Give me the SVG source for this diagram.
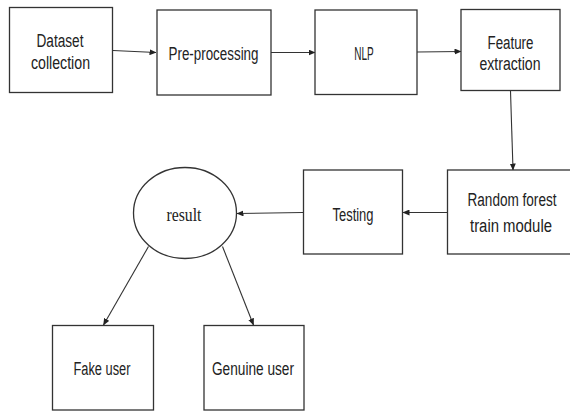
<svg xmlns="http://www.w3.org/2000/svg" width="570" height="411" viewBox="0 0 570 411">
<style>
.box{fill:#fff;stroke:#333;stroke-width:1.3}
.t{font-family:"Liberation Sans Narrow","Liberation Sans",Arial,sans-serif;font-size:18px;fill:#222;text-anchor:middle}
.s{font-family:"Liberation Serif","Times New Roman",serif;font-size:18.5px;fill:#222;text-anchor:middle}
.c{stroke:#333;stroke-width:1.1;fill:none;marker-end:url(#ah)}
</style>
<defs>
<marker id="ah" markerWidth="7" markerHeight="6" refX="6.5" refY="3" orient="auto" markerUnits="userSpaceOnUse">
<path d="M0,0 L7,3 L0,6 Z" fill="#222"/>
</marker>
</defs>
<rect width="570" height="411" fill="#fff"/>
<g id="connectors">
<line class="c" x1="113" y1="50.5" x2="156" y2="52.5"/>
<line class="c" x1="271" y1="52.5" x2="315" y2="52.5"/>
<line class="c" x1="417" y1="52" x2="461" y2="51.5"/>
<line class="c" x1="510.5" y1="91" x2="513" y2="170"/>
<line class="c" x1="447.5" y1="212.5" x2="403" y2="212.5"/>
<line class="c" x1="303" y1="212.5" x2="237" y2="213.5"/>
<line class="c" x1="148.5" y1="246.5" x2="103.5" y2="325"/>
<line class="c" x1="222.5" y1="246.5" x2="253.5" y2="325"/>
</g>
<g id="dataset">
<rect class="box" x="9.5" y="7.5" width="103" height="85"/>
<text class="t" x="60" y="46.5" textLength="47" lengthAdjust="spacingAndGlyphs">Dataset</text>
<text class="t" x="60.5" y="69" textLength="59" lengthAdjust="spacingAndGlyphs">collection</text>
</g>
<g id="preprocessing">
<rect class="box" x="157" y="10" width="114" height="85"/>
<text class="t" x="213.5" y="60" textLength="90" lengthAdjust="spacingAndGlyphs">Pre-processing</text>
</g>
<g id="nlp">
<rect class="box" x="315" y="10" width="102" height="84.5"/>
<text class="t" x="364" y="59.5" textLength="19.5" lengthAdjust="spacingAndGlyphs">NLP</text>
</g>
<g id="feature">
<rect class="box" x="461" y="9.5" width="99" height="81"/>
<text class="t" x="510.5" y="48.5" textLength="46" lengthAdjust="spacingAndGlyphs">Feature</text>
<text class="t" x="510" y="70" textLength="61" lengthAdjust="spacingAndGlyphs">extraction</text>
</g>
<g id="randomforest">
<rect class="box" x="447.5" y="170" width="125" height="84"/>
<text class="t" x="512" y="206" textLength="89" lengthAdjust="spacingAndGlyphs">Random forest</text>
<text class="t" x="511" y="231.5" textLength="82" lengthAdjust="spacingAndGlyphs">train module</text>
</g>
<g id="testing">
<rect class="box" x="303.5" y="170" width="99" height="84"/>
<text class="t" x="353" y="221" textLength="41" lengthAdjust="spacingAndGlyphs">Testing</text>
</g>
<g id="result">
<ellipse class="box" cx="185" cy="213" rx="51.5" ry="45.5"/>
<text class="s" x="184" y="221" textLength="35" lengthAdjust="spacingAndGlyphs">result</text>
</g>
<g id="fakeuser">
<rect class="box" x="52.5" y="325.5" width="101" height="84.5"/>
<text class="t" x="102" y="374.5" textLength="57" lengthAdjust="spacingAndGlyphs">Fake user</text>
</g>
<g id="genuineuser">
<rect class="box" x="204" y="325.5" width="100" height="84.5"/>
<text class="t" x="253" y="375" textLength="82" lengthAdjust="spacingAndGlyphs">Genuine user</text>
</g>
</svg>
